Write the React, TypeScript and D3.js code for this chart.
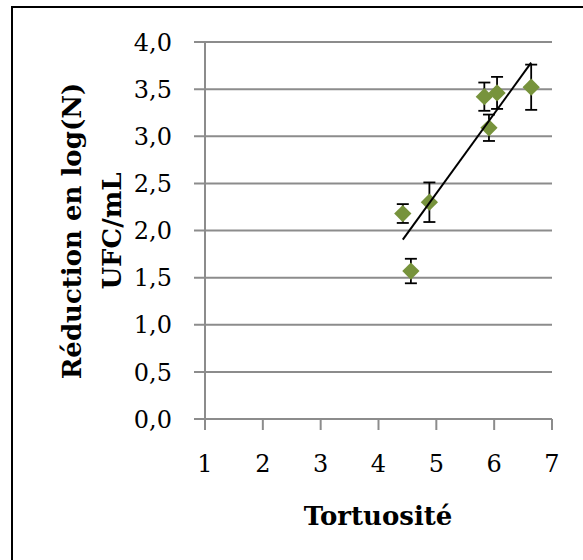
import React from "react";
import * as d3 from "d3";

const tortuosity = [4.42, 4.56, 4.88, 5.91, 5.83, 6.05, 6.64];
const reduction = [2.18, 1.57, 2.30, 3.09, 3.42, 3.46, 3.52];
const errors = [0.10, 0.13, 0.21, 0.14, 0.15, 0.17, 0.24];
const xTicks = [1, 2, 3, 4, 5, 6, 7];
const yTicks = [0, 0.5, 1, 1.5, 2, 2.5, 3, 3.5, 4];
const xTitle = "Tortuosité";
const yTitleLines = ["Réduction en log(N)", "UFC/mL"];

const W = 583;
const H = 560;
const FONT = "DejaVu Serif";

export default function App() {
  const x = d3.scaleLinear().domain([1, 7]).range([205, 552]);
  const y = d3.scaleLinear().domain([0, 4]).range([419, 42]);
  const fmt = (v: number) => d3.format(".1f")(v).replace(".", ",");

  const mx = d3.mean(tortuosity)!;
  const my = d3.mean(reduction)!;
  let sxy = 0, sxx = 0;
  tortuosity.forEach((xv, i) => {
    sxy += (xv - mx) * (reduction[i] - my);
    sxx += (xv - mx) * (xv - mx);
  });
  const slope = sxy / sxx;
  const icpt = my - slope * mx;
  const x0 = d3.min(tortuosity)!;
  const x1 = d3.max(tortuosity)!;
  const line = d3.line<number>().x((d) => x(d)).y((d) => y(slope * d + icpt));

  const diamond = d3.symbol().type(d3.symbolDiamond2).size(190)()!;

  return (
    <svg width={W} height={H} style={{ position: "absolute", left: 0, top: 0, background: "#fff" }}>
      <rect x={12} y={7} width={W} height={H} fill="#fff" stroke="#000" strokeWidth={2} />
      {yTicks.map((t) => (
        <g key={t}>
          <line x1={194} x2={x(7)} y1={y(t)} y2={y(t)} stroke="#8c8c8c" strokeWidth={2} />
          <text x={172} y={y(t)} dy="0.36em" textAnchor="end" style={{ fontFamily: FONT }} fontSize={24} fill="#000">
            {fmt(t)}
          </text>
        </g>
      ))}
      <line x1={x(1)} x2={x(1)} y1={y(4)} y2={y(0)} stroke="#8c8c8c" strokeWidth={2} />
      {xTicks.map((t) => (
        <g key={t}>
          <line x1={x(t)} x2={x(t)} y1={y(0)} y2={y(0) + 11} stroke="#8c8c8c" strokeWidth={2} />
          <text x={x(t)} y={463} dy="0.36em" textAnchor="middle" style={{ fontFamily: FONT }} fontSize={24} fill="#000">
            {t}
          </text>
        </g>
      ))}
      <text x={378} y={516} dy="0.36em" textAnchor="middle" style={{ fontFamily: FONT }} fontSize={26} fontWeight="bold">
        {xTitle}
      </text>
      <g transform="translate(0,231) rotate(-90)">
        {yTitleLines.map((l, i) => (
          <text key={i} x={0} y={72 + i * 40} dy="0.36em" textAnchor="middle" style={{ fontFamily: FONT }} fontSize={26} fontWeight="bold">
            {l}
          </text>
        ))}
      </g>
      {tortuosity.map((xv, i) => (
        <g key={i}>
          <line x1={x(xv)} x2={x(xv)} y1={y(reduction[i] - errors[i])} y2={y(reduction[i] + errors[i])} stroke="#000" strokeWidth={1.8} />
          <line x1={x(xv) - 6} x2={x(xv) + 6} y1={y(reduction[i] - errors[i])} y2={y(reduction[i] - errors[i])} stroke="#000" strokeWidth={1.8} />
          <line x1={x(xv) - 6} x2={x(xv) + 6} y1={y(reduction[i] + errors[i])} y2={y(reduction[i] + errors[i])} stroke="#000" strokeWidth={1.8} />
        </g>
      ))}
      {tortuosity.map((xv, i) => (
        <path key={i} d={diamond} transform={`translate(${x(xv)},${y(reduction[i])})`} fill="#77933C" />
      ))}
      <path d={line([x0, x1])!} fill="none" stroke="#000" strokeWidth={2} />
    </svg>
  );
}
